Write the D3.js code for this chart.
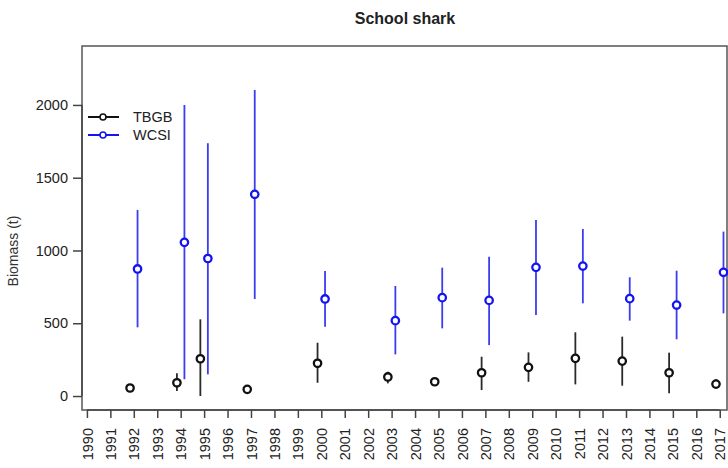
<!DOCTYPE html>
<html>
<head>
<meta charset="utf-8">
<script src="https://cdn.jsdelivr.net/npm/d3@7"></script>
<style>
  body { margin: 0; background: #fff; }
  svg { display: block; font-family: Arial, "Liberation Sans", sans-serif; }
</style>
</head>
<body>
<div id="chart"></div>
<script>
// Survey years and tick labels
const yearTicks = d3.range(1990, 2018);
const yTicks = [0, 500, 1000, 1500, 2000];

// TBGB survey (black)
const tbgbYears = [1992, 1994, 1995, 1997, 2000, 2003, 2005, 2007, 2009, 2011, 2013, 2015, 2017];
const tbgbBiomass = [55, 91, 256, 46, 225, 131, 98, 160, 197, 259, 240, 160, 82];
const tbgbLower = [40, 34, 0, 30, 91, 87, 71, 41, 98, 80, 71, 19, 53];
const tbgbUpper = [70, 156, 527, 65, 366, 167, 124, 270, 300, 438, 408, 298, 115];

// WCSI survey (blue)
const wcsiYears = [1992, 1994, 1995, 1997, 2000, 2003, 2005, 2007, 2009, 2011, 2013, 2015, 2017];
const wcsiBiomass = [873, 1056, 945, 1386, 667, 518, 676, 657, 884, 893, 669, 625, 850];
const wcsiLower = [472, 115, 149, 667, 476, 286, 465, 350, 557, 637, 518, 390, 568];
const wcsiUpper = [1278, 2000, 1737, 2103, 859, 756, 882, 957, 1210, 1148, 816, 861, 1130];

const seriesNames = ["TBGB", "WCSI"];

const width = 728, height = 468;
const box = { left: 82, right: 727, top: 46, bottom: 410 };

const svg = d3.select("#chart").append("svg")
  .attr("width", width)
  .attr("height", height);

const x = d3.scaleLinear()
  .domain([1989.79, 2017.31])
  .range([box.left, box.right]);

const y = d3.scaleLinear()
  .domain([-96, 2405])
  .range([box.bottom, box.top]);

// Title
svg.append("text")
  .attr("x", 405)
  .attr("y", 24)
  .attr("text-anchor", "middle")
  .style("font-size", "16px")
  .style("font-weight", "bold")
  .style("fill", "#222")
  .text("School shark");

// Plot box
svg.append("rect")
  .attr("x", box.left)
  .attr("y", box.top)
  .attr("width", box.right - box.left)
  .attr("height", box.bottom - box.top)
  .style("fill", "none")
  .style("stroke", "#555")
  .style("stroke-width", 1.5);

// Y axis
const yAxis = svg.append("g")
  .attr("transform", `translate(${box.left},0)`)
  .call(d3.axisLeft(y).tickValues(yTicks).tickSize(9).tickPadding(5).tickFormat(d3.format("d")));
yAxis.select(".domain")
  .attr("d", `M0,${y(0)}V${y(2000)}`)
  .style("stroke", "#444")
  .style("stroke-width", 1.5);
yAxis.selectAll(".tick line").style("stroke", "#444").style("stroke-width", 1.5);
yAxis.selectAll(".tick text")
  .style("font-size", "14.5px")
  .style("fill", "#222");

// X axis
const xAxis = svg.append("g")
  .attr("transform", `translate(0,${box.bottom})`)
  .call(d3.axisBottom(x).tickValues(yearTicks).tickSize(8).tickFormat(d3.format("d")));
xAxis.select(".domain")
  .attr("d", `M${x(1990)},0H${x(2017)}`)
  .style("stroke", "#444")
  .style("stroke-width", 1.5);
xAxis.selectAll(".tick line").style("stroke", "#444").style("stroke-width", 1.5);
xAxis.selectAll(".tick text")
  .attr("transform", "rotate(-90)")
  .attr("x", -18)
  .attr("y", 0)
  .attr("dy", "0.35em")
  .attr("text-anchor", "end")
  .style("font-size", "14.5px")
  .style("fill", "#222");

// Y axis title
svg.append("text")
  .attr("transform", `translate(18,251) rotate(-90)`)
  .attr("text-anchor", "middle")
  .style("font-size", "14px")
  .style("fill", "#333")
  .text("Biomass (t)");

// Series drawing
function drawSeries(years, mid, lo, hi, offset, lineColor, pointColor) {
  const rows = years.map((yr, i) => ({ yr, mid: mid[i], lo: lo[i], hi: hi[i] }));
  const g = svg.append("g");
  g.selectAll("line.err")
    .data(rows)
    .enter()
    .append("line")
    .attr("class", "err")
    .attr("x1", d => x(d.yr + offset))
    .attr("x2", d => x(d.yr + offset))
    .attr("y1", d => y(d.lo))
    .attr("y2", d => y(d.hi))
    .style("stroke", lineColor)
    .style("stroke-width", 1.8);
  g.selectAll("circle")
    .data(rows)
    .enter()
    .append("circle")
    .attr("cx", d => x(d.yr + offset))
    .attr("cy", d => y(d.mid))
    .attr("r", 3.7)
    .style("fill", "#fff")
    .style("stroke", pointColor)
    .style("stroke-width", 2.3);
}

drawSeries(tbgbYears, tbgbBiomass, tbgbLower, tbgbUpper, -0.16, "#2a2a2a", "#111");
drawSeries(wcsiYears, wcsiBiomass, wcsiLower, wcsiUpper, 0.16, "#3c3cf0", "#1414f0");

// Legend
const legendColors = ["#111", "#1414f0"];
const legend = svg.append("g");
seriesNames.forEach((name, i) => {
  const ly = 117 + i * 18;
  legend.append("line")
    .attr("x1", 88).attr("x2", 119)
    .attr("y1", ly).attr("y2", ly)
    .style("stroke", legendColors[i])
    .style("stroke-width", 2);
  legend.append("circle")
    .attr("cx", 103).attr("cy", ly)
    .attr("r", 3)
    .style("fill", "#fff")
    .style("stroke", legendColors[i])
    .style("stroke-width", 1.6);
  legend.append("text")
    .attr("x", 133)
    .attr("y", ly)
    .attr("dy", "0.35em")
    .style("font-size", "14.5px")
    .style("fill", "#222")
    .text(name);
});
</script>
</body>
</html>
